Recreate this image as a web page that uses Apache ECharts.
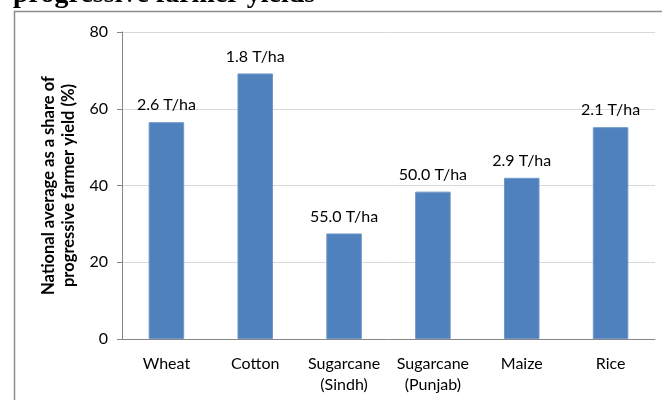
<!DOCTYPE html>
<html>
<head>
<meta charset="utf-8">
<script src="https://cdn.jsdelivr.net/npm/echarts@6/dist/echarts.min.js"></script>
<style>
html,body{margin:0;padding:0;background:#fff;}
#c{width:662px;height:400px;}
</style>
</head>
<body>
<div id="c"></div>
<script>
var categories = ['Wheat', 'Cotton', 'Sugarcane\n(Sindh)', 'Sugarcane\n(Punjab)', 'Maize', 'Rice'];
var shares = [56.5, 69.2, 27.5, 38.4, 42.0, 55.2];
var yieldLabels = ['2.6 T/ha', '1.8 T/ha', '55.0 T/ha', '50.0 T/ha', '2.9 T/ha', '2.1 T/ha'];
var yTicks = [0, 20, 40, 60, 80];
var titleText = 'progressive farmer yields';
var yAxisName = 'National average as a share of\nprogressive farmer yield (%)';

var font = 'Lato, "Open Sans", sans-serif';
var chart = echarts.init(document.getElementById('c'), null, {renderer: 'canvas'});
chart.setOption({
  animation: false,
  backgroundColor: '#fff',
  graphic: [
    {type: 'rect', shape: {x: 14.5, y: 11.5, width: 700, height: 420}, style: {fill: 'none', stroke: '#8c8c8c', lineWidth: 1.5}, silent: true},
    {type: 'text', x: 13, y: 9, style: {text: titleText, font: 'bold 28px "Liberation Serif", "DejaVu Serif", serif', fill: '#000', verticalAlign: 'bottom', align: 'left'}}
  ],
  grid: {left: 122, right: 7, top: 32, bottom: 61},
  xAxis: {
    type: 'category',
    data: categories,
    axisLine: {lineStyle: {color: '#868686'}},
    axisTick: {alignWithLabel: false, length: 6, lineStyle: {color: '#868686'}},
    axisLabel: {color: '#000', fontFamily: font, fontSize: 16, margin: 14, lineHeight: 21, interval: 0}
  },
  yAxis: {
    type: 'value',
    min: yTicks[0], max: yTicks[yTicks.length - 1], interval: 20,
    name: yAxisName,
    nameLocation: 'middle',
    nameGap: 43,
    nameTextStyle: {fontFamily: font, fontWeight: 'bold', fontSize: 16.5, color: '#000', lineHeight: 20},
    axisLine: {show: true, lineStyle: {color: '#868686'}},
    axisTick: {show: true, length: 5, lineStyle: {color: '#868686'}},
    axisLabel: {color: '#000', fontFamily: font, fontSize: 16, margin: 14},
    splitLine: {lineStyle: {color: '#d9d9d9'}}
  },
  series: [{
    type: 'bar',
    data: shares,
    barWidth: '40%',
    itemStyle: {color: '#4f81bd', borderColor: '#6f97c9', borderWidth: 1},
    label: {
      show: true, position: 'top', distance: 9,
      fontFamily: font, fontSize: 16, color: '#000',
      formatter: function (p) { return yieldLabels[p.dataIndex]; }
    }
  }]
});
</script>
</body>
</html>
